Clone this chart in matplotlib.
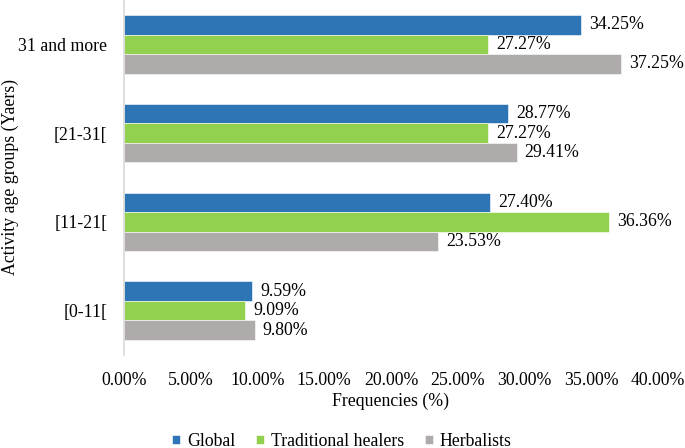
import matplotlib
matplotlib.use("Agg")
import matplotlib.pyplot as plt
import numpy as np

categories = ["[0-11[", "[11-21[", "[21-31[", "31 and more"]
series_names = ["Global", "Traditional healers", "Herbalists"]
global_vals = [9.59, 27.40, 28.77, 34.25]
healers_vals = [9.09, 36.36, 27.27, 27.27]
herbalists_vals = [9.80, 23.53, 29.41, 37.25]
xticks = [0, 5, 10, 15, 20, 25, 30, 35, 40]
colors = ["#2E75B6", "#92D050", "#AFABAB"]

plt.rcParams['font.family'] = ['Liberation Serif', 'DejaVu Serif']
plt.rcParams['font.size'] = 12.8

fig = plt.figure(figsize=(6.85, 4.48), dpi=100)
ax = fig.add_axes([0.181, 0.2076, 0.7796, 0.7924])

y = np.arange(len(categories))
h = 0.22
offsets = [h, 0, -h]
all_vals = [global_vals, healers_vals, herbalists_vals]
for vals, off, c, name in zip(all_vals, offsets, colors, series_names):
    bars = ax.barh(y + off, vals, height=h, color=c, label=name,
                   edgecolor="white", linewidth=0.4)
    for b, v in zip(bars, vals):
        ax.text(v + 0.6, b.get_y() + b.get_height() / 2, f"{v:.2f}%",
                va="center", ha="left")

ax.set_xlim(0, 40)
ax.set_ylim(-0.5, 3.5)
ax.set_xticks(xticks)
ax.set_xticklabels([f"{t:.2f}%" for t in xticks])
ax.set_yticks(y)
ax.set_yticklabels(categories)
ax.tick_params(axis='both', length=0)
ax.tick_params(axis='x', pad=12)
ax.tick_params(axis='y', pad=12)
for s in ["top", "right", "bottom"]:
    ax.spines[s].set_visible(False)
ax.spines["left"].set_color("#D9D9D9")
ax.spines["left"].set_linewidth(1.2)

ax.set_xlabel("Frequencies (%)", labelpad=3)
ax.set_ylabel("Activity age groups (Yaers)")
ax.yaxis.set_label_coords(-(124 - 19) / (0.7796 * 685), 0.5)

leg = fig.legend(loc="center", bbox_to_anchor=(342 / 685, 1 - 441 / 448), ncol=3,
                 frameon=False, handlelength=0.42, handleheight=0.42,
                 handletextpad=0.4, columnspacing=1.2)

fig.savefig("out.png", dpi=100)
